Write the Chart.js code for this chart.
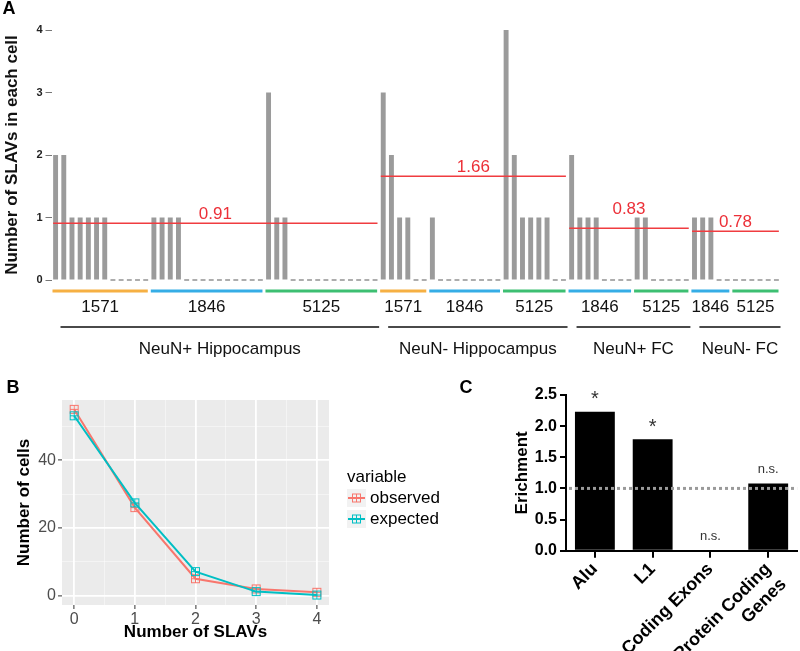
<!DOCTYPE html>
<html>
<head>
<meta charset="utf-8">
<script src="https://cdn.jsdelivr.net/npm/chart.js@4.4.1/dist/chart.umd.min.js"></script>
<style>
  html, body { margin: 0; padding: 0; background: #fff; }
  #fig { position: relative; width: 800px; height: 651px; overflow: hidden; }
  .panel { position: absolute; }
</style>
</head>
<body>
<div id="fig">
  <div class="panel" style="left:0;top:0;width:800px;height:380px"><canvas id="chartA"></canvas></div>
  <div class="panel" style="left:0;top:380px;width:450px;height:271px"><canvas id="chartB"></canvas></div>
  <div class="panel" style="left:450px;top:380px;width:350px;height:271px"><canvas id="chartC"></canvas></div>
</div>
<script>
// ---- panel A: SLAVs per cell, one bar per cell ----
const sampleIds = ['1571', '1846', '5125', '1571', '1846', '5125', '1846', '5125', '1846', '5125'];
const sampleCells = [
  [2, 2, 1, 1, 1, 1, 1, 0, 0, 0, 0, 0],
  [1, 1, 1, 1, 0, 0, 0, 0, 0, 0, 0, 0, 0, 0],
  [3, 1, 1, 0, 0, 0, 0, 0, 0, 0, 0, 0, 0, 0],
  [3, 2, 1, 1, 0, 0],
  [1, 0, 0, 0, 0, 0, 0, 0, 0],
  [4, 2, 1, 1, 1, 1, 0, 0],
  [2, 1, 1, 1, 0, 0, 0, 0],
  [1, 1, 0, 0, 0, 0, 0],
  [1, 1, 1, 0, 0],
  [0, 0, 0, 0, 0, 0]
];
const groupNames = ['NeuN+ Hippocampus', 'NeuN- Hippocampus', 'NeuN+ FC', 'NeuN- FC'];
const groupSampleCount = [3, 3, 2, 2];
const groupMeans = [0.91, 1.66, 0.83, 0.78];

// ---- panel B: distribution of SLAVs per cell ----
const slavCounts = [0, 1, 2, 3, 4];
const observedCells = [55, 26, 5, 2, 1];
const expectedCells = [53.1, 27.4, 7.1, 1.2, 0.2];
const cellTicks = [0, 20, 40];
const cellGrid = [0, 10, 20, 30, 40, 50];
const slavGrid = [0, 0.5, 1, 1.5, 2, 2.5, 3, 3.5, 4];

// ---- panel C: enrichment ----
const regionLabels = ['Alu', 'L1', 'Coding Exons', ['Protein Coding', 'Genes']];
const enrichment = [2.23, 1.79, 0, 1.08];
const significance = ['*', '*', 'n.s.', 'n.s.'];

const FONT = '"Liberation Sans", Arial, Helvetica, sans-serif';
Chart.defaults.font.family = FONT;
Chart.defaults.animation = false;
Chart.defaults.events = [];

const sampleColors = { '1571': '#f6b043', '1846': '#35ade6', '5125': '#3dbf72' };

// flatten cells, remember where each sample starts
const cells = [];
const sampleStart = [];
sampleCells.forEach(list => {
  sampleStart.push(cells.length);
  list.forEach(v => cells.push(v));
});
const groupRange = [];
let si = 0;
groupSampleCount.forEach(n => {
  const first = sampleStart[si];
  const last = sampleStart[si + n - 1] + sampleCells[si + n - 1].length - 1;
  groupRange.push([first, last]);
  si += n;
});

function panelLetter(letter, x, y) {
  return {
    id: 'letter' + letter,
    afterDraw(chart) {
      const ctx = chart.ctx;
      ctx.save();
      ctx.font = 'bold 18px ' + FONT;
      ctx.fillStyle = '#000';
      ctx.textAlign = 'center';
      ctx.textBaseline = 'middle';
      ctx.fillText(letter, x, y);
      ctx.restore();
    }
  };
}

// mean labels + sample / group annotations under panel A
const annotateA = {
  id: 'annotateA',
  afterDraw(chart) {
    const ctx = chart.ctx;
    const xs = chart.scales.x;
    const px = v => xs.getPixelForValue(v);
    const bars = chart.getDatasetMeta(0).data;
    ctx.save();

    // mean values over the red lines
    ctx.font = '17px ' + FONT;
    ctx.fillStyle = 'rgb(236,48,56)';
    ctx.textAlign = 'center';
    ctx.textBaseline = 'alphabetic';
    chart.data.datasets.forEach((ds, i) => {
      if (ds.meanLabel === undefined) return;
      const pts = chart.getDatasetMeta(i).data;
      const cx = (pts[0].x + pts[1].x) / 2;
      let base = pts[0].y - 4;
      bars.forEach((b, k) => {
        if (cells[k] > 0 && Math.abs(b.x - cx) < 20) base = Math.min(base, b.y - 4);
      });
      ctx.fillText(ds.meanLabel, cx, base);
    });

    // sample underlines and ids
    ctx.fillStyle = '#111';
    ctx.textBaseline = 'middle';
    sampleCells.forEach((list, s) => {
      const a = px(sampleStart[s] - 0.5) + 1;
      const b = px(sampleStart[s] + list.length - 0.5) - 2;
      ctx.strokeStyle = sampleColors[sampleIds[s]];
      ctx.lineWidth = 3;
      ctx.beginPath();
      ctx.moveTo(a, 291);
      ctx.lineTo(b, 291);
      ctx.stroke();
      ctx.fillText(sampleIds[s], (a + b) / 2, 307);
    });

    // group lines and names
    groupNames.forEach((name, g) => {
      const [first, last] = groupRange[g];
      const a = px(first + 0.6);
      const b = px(last + 0.5);
      ctx.strokeStyle = '#4a4a4a';
      ctx.lineWidth = 2;
      ctx.beginPath();
      ctx.moveTo(a, 327);
      ctx.lineTo(b, 327);
      ctx.stroke();
      ctx.fillText(name, (a + b) / 2, 349);
    });
    ctx.restore();
  }
};

new Chart(document.getElementById('chartA'), {
  type: 'bar',
  data: {
    datasets: [
      {
        data: cells.map((v, i) => ({ x: i, y: v })),
        backgroundColor: '#9b9b9b',
        barPercentage: 0.6,
        categoryPercentage: 1,
        grouped: false,
        order: 0
      },
      {
        data: cells.map((v, i) => ({ x: i, y: [-0.013, 0.013] })).filter(d => cells[d.x] === 0),
        backgroundColor: '#9b9b9b',
        barPercentage: 0.6,
        categoryPercentage: 1,
        grouped: false,
        clip: false,
        order: 1
      },
      ...groupMeans.map((m, g) => ({
        type: 'line',
        meanLabel: m.toFixed(2),
        data: [{ x: groupRange[g][0] - 0.3, y: m }, { x: groupRange[g][1] + 0.3, y: m }],
        borderColor: 'rgb(240,60,64)',
        borderWidth: 1.5,
        pointRadius: 0,
        order: -1
      }))
    ]
  },
  options: {
    responsive: true,
    maintainAspectRatio: false,
    layout: { padding: { left: 0, top: 30, right: 19.5, bottom: 100 } },
    plugins: { legend: { display: false }, tooltip: { enabled: false } },
    scales: {
      x: {
        type: 'linear', min: -0.5, max: cells.length - 0.5, display: false, offset: false,
        ticks: { display: false },
        afterFit: s => { s.paddingLeft = 0; s.paddingRight = 0; }
      },
      y: {
        min: 0, max: 4,
        ticks: { stepSize: 1, font: { size: 11, weight: 'bold' }, color: '#222', padding: 3 },
        grid: { drawOnChartArea: false, color: '#777', tickLength: 6, lineWidth: 1 },
        border: { display: false },
        title: { display: true, text: 'Number of SLAVs in each cell', font: { size: 17, weight: 'bold' }, color: '#111', padding: 2 },
        afterFit: s => { s.width = 51.5; }
      }
    }
  },
  plugins: [annotateA, panelLetter('A', 9, 9)]
});

// ---- panel B ----
function squarePlus(color) {
  const c = document.createElement('canvas');
  c.width = 11; c.height = 11;
  const g = c.getContext('2d');
  g.strokeStyle = color;
  g.lineWidth = 1;
  g.strokeRect(1.5, 1.5, 8, 8);
  g.beginPath();
  g.moveTo(5.5, 1.5); g.lineTo(5.5, 9.5);
  g.moveTo(1.5, 5.5); g.lineTo(9.5, 5.5);
  g.stroke();
  return c;
}

const greyPanel = {
  id: 'greyPanel',
  beforeDraw(chart) {
    const a = chart.chartArea;
    chart.ctx.save();
    chart.ctx.fillStyle = '#ebebeb';
    chart.ctx.fillRect(a.left, a.top, a.right - a.left, a.bottom - a.top);
    chart.ctx.restore();
  }
};

const legendB = {
  id: 'legendB',
  afterDraw(chart) {
    const ctx = chart.ctx;
    ctx.save();
    ctx.font = '17px ' + FONT;
    ctx.fillStyle = '#000';
    ctx.textAlign = 'left';
    ctx.textBaseline = 'middle';
    ctx.fillText('variable', 347, 97);
    chart.data.datasets.forEach((ds, i) => {
      const y = 118 + i * 21;
      ctx.fillStyle = '#f2f2f2';
      ctx.fillRect(347, y - 9, 19, 18);
      ctx.strokeStyle = ds.borderColor;
      ctx.lineWidth = 2;
      ctx.beginPath();
      ctx.moveTo(348, y);
      ctx.lineTo(365, y);
      ctx.stroke();
      ctx.drawImage(ds.pointStyle, 356.5 - 5.5, y - 5.5);
      ctx.fillStyle = '#000';
      ctx.fillText(ds.label, 370, y);
    });
    ctx.restore();
  }
};

new Chart(document.getElementById('chartB'), {
  type: 'line',
  data: {
    datasets: [
      {
        label: 'observed',
        data: slavCounts.map((x, i) => ({ x: x, y: observedCells[i] })),
        borderColor: '#F8766D',
        borderWidth: 2,
        pointStyle: squarePlus('#F8766D'),
        pointRadius: 5,
        order: 1
      },
      {
        label: 'expected',
        data: slavCounts.map((x, i) => ({ x: x, y: expectedCells[i] })),
        borderColor: '#00BFC4',
        borderWidth: 2,
        pointStyle: squarePlus('#00BFC4'),
        pointRadius: 5,
        order: 0
      }
    ]
  },
  options: {
    responsive: true,
    maintainAspectRatio: false,
    layout: { padding: { left: 12, top: 20, right: 121, bottom: 8 } },
    plugins: { legend: { display: false }, tooltip: { enabled: false } },
    scales: {
      x: {
        type: 'linear', min: -0.2, max: 4.2,
        afterBuildTicks: s => { s.ticks = slavGrid.map(v => ({ value: v })); },
        ticks: { callback: v => slavCounts.includes(v) ? String(v) : '', font: { size: 16 }, color: '#4d4d4d', padding: 1, maxRotation: 0 },
        grid: {
          color: c => slavCounts.includes(c.tick.value) ? '#ffffff' : 'rgba(255,255,255,0.55)',
          lineWidth: c => slavCounts.includes(c.tick.value) ? 1.8 : 0.8,
          tickColor: c => slavCounts.includes(c.tick.value) ? '#333' : 'rgba(0,0,0,0)',
          tickWidth: 1,
          tickLength: 4
        },
        border: { display: false },
        title: { display: true, text: 'Number of SLAVs', font: { size: 17, weight: 'bold' }, color: '#000', padding: 0 },
        afterFit: s => { s.height = 38; }
      },
      y: {
        min: -2.75, max: 57.75,
        afterBuildTicks: s => { s.ticks = cellGrid.map(v => ({ value: v })); },
        ticks: { callback: v => cellTicks.includes(v) ? String(v) : '', font: { size: 16 }, color: '#4d4d4d', padding: 2 },
        grid: {
          color: c => cellTicks.includes(c.tick.value) ? '#ffffff' : 'rgba(255,255,255,0.55)',
          lineWidth: c => cellTicks.includes(c.tick.value) ? 1.8 : 0.8,
          tickColor: c => cellTicks.includes(c.tick.value) ? '#333' : 'rgba(0,0,0,0)',
          tickWidth: 1,
          tickLength: 4
        },
        border: { display: false },
        title: { display: true, text: 'Number of cells', font: { size: 17, weight: 'bold' }, color: '#000', padding: 2 },
        afterFit: s => { s.width = 50; }
      }
    }
  },
  plugins: [greyPanel, legendB, panelLetter('B', 13, 8)]
});

// ---- panel C ----
const annotateC = {
  id: 'annotateC',
  afterDatasetsDraw(chart) {
    const ctx = chart.ctx;
    const a = chart.chartArea;
    const y1 = chart.scales.y.getPixelForValue(1);
    ctx.save();
    ctx.strokeStyle = '#9a9a9a';
    ctx.lineWidth = 3;
    ctx.setLineDash([3, 3]);
    ctx.beginPath();
    ctx.moveTo(a.left + 3, y1);
    ctx.lineTo(a.right, y1);
    ctx.stroke();
    ctx.setLineDash([]);
    ctx.fillStyle = '#333';
    ctx.textAlign = 'center';
    ctx.textBaseline = 'middle';
    chart.getDatasetMeta(0).data.forEach((bar, i) => {
      const star = significance[i] === '*';
      ctx.font = (star ? '20px ' : '13px ') + FONT;
      ctx.fillText(significance[i], bar.x, bar.y - (star ? 12 : 14));
    });
    ctx.restore();
  }
};

new Chart(document.getElementById('chartC'), {
  type: 'bar',
  data: {
    labels: regionLabels,
    datasets: [{
      data: enrichment,
      backgroundColor: '#000',
      barPercentage: 0.69,
      categoryPercentage: 1
    }]
  },
  options: {
    responsive: true,
    maintainAspectRatio: false,
    layout: { padding: { left: 60, top: 15, right: 2, bottom: 0 } },
    plugins: { legend: { display: false }, tooltip: { enabled: false } },
    scales: {
      x: {
        ticks: { autoSkip: false, minRotation: 45, maxRotation: 45, font: { size: 18, weight: 'bold' }, color: '#000', padding: 1 },
        grid: { offset: false, drawOnChartArea: false, color: '#000', lineWidth: 2, tickLength: 7 },
        border: { color: '#000', width: 2 },
        afterFit: s => { s.height = 100.3; }
      },
      y: {
        min: 0, max: 2.5,
        ticks: { stepSize: 0.5, callback: v => v.toFixed(1), font: { size: 16, weight: 'bold' }, color: '#000', padding: 3 },
        grid: { drawOnChartArea: false, color: '#000', lineWidth: 2, tickLength: 6 },
        border: { color: '#000', width: 2 },
        title: { display: true, text: 'Erichment', font: { size: 17, weight: 'bold' }, color: '#000', padding: 2 },
        afterFit: s => { s.width = 56; }
      }
    }
  },
  plugins: [annotateC, panelLetter('C', 16, 8)]
});
</script>
</body>
</html>
